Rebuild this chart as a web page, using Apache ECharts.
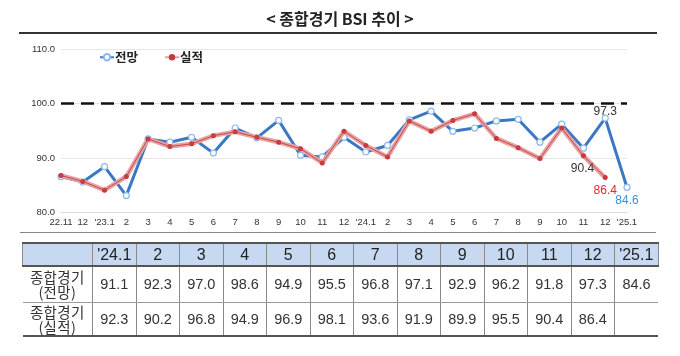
<!DOCTYPE html>
<html><head><meta charset="utf-8">
<script src="https://cdn.jsdelivr.net/npm/echarts@6/dist/echarts.min.js"></script>
<style>
html,body{margin:0;padding:0;background:#fff;width:680px;height:356px;overflow:hidden;}
#chart{position:absolute;left:0;top:0;width:680px;height:356px;}
.rule{position:absolute;}
#tbl{position:absolute;left:22px;top:242px;border-collapse:collapse;table-layout:fixed;color:#333;
 font-family:'Liberation Sans Narrow','Liberation Sans',Arial,sans-serif;}
#tbl th{background:#c6d9f0;font-weight:normal;font-size:16px;height:21px;padding:0;text-align:center;color:#222;
 border:1px solid #8a8a8a;border-top:2px solid #555;border-bottom:2px solid #555;}
#tbl td{font-size:14.5px;text-align:center;padding:0;border-left:1px solid #8a8a8a;border-right:1px solid #8a8a8a;border-bottom:1px solid #9a9a9a;}
#tbl td.lab{font-family:'Noto Sans CJK KR',sans-serif;font-size:14.5px;line-height:15px;border-left:none;letter-spacing:0.3px;color:#333;}
#tbl td:last-child{border-right:none;}
#tbl tr.last td{border-bottom:2px solid #555;}
</style></head>
<body>
<div id="chart"></div>
<div class="rule" style="left:19px;top:32px;width:638px;height:2px;background:#333;"></div>
<div class="rule" style="left:20px;top:232px;width:636px;height:1px;background:#888;"></div>
<table id="tbl"></table>
<script>
var categories = ['22.11','12',"'23.1",'2','3','4','5','6','7','8','9','10','11','12',"'24.1",'2','3','4','5','6','7','8','9','10','11','12',"'25.1"];
var outlook = [86.6,85.6,88.4,83.1,93.5,92.9,93.8,90.9,95.5,93.7,96.9,90.5,90.2,93.8,91.1,92.3,97.0,98.6,94.9,95.5,96.8,97.1,92.9,96.2,91.8,97.3,84.6];
var actual  = [86.8,85.7,84.1,86.6,93.5,92.1,92.6,94.1,94.8,93.8,92.9,91.7,89.1,94.9,92.3,90.2,96.8,94.9,96.9,98.1,93.6,91.9,89.9,95.5,90.4,86.4,null];
var yTicks = [80,90,100,110];
var rowLabels = ['종합경기<br>(전망)','종합경기<br>(실적)'];
var tableStart = 14;

// ---- table ----
var tbl = document.getElementById('tbl');
var html = '<colgroup><col style="width:70px">';
for (var i = tableStart; i < categories.length; i++) html += '<col style="width:43.5px">';
html += '</colgroup><tr><th></th>';
for (var i = tableStart; i < categories.length; i++) html += '<th>' + categories[i] + '</th>';
html += '</tr>';
[outlook, actual].forEach(function(arr, r){
  html += '<tr class="' + (r === 1 ? 'last' : '') + '" style="height:' + (r === 0 ? 36 : 34) + 'px"><td class="lab">' + rowLabels[r] + '</td>';
  for (var i = tableStart; i < categories.length; i++) html += '<td>' + (arr[i] == null ? '' : arr[i].toFixed(1)) + '</td>';
  html += '</tr>';
});
tbl.innerHTML = html;

// ---- chart ----
var n = categories.length;
var blueData = outlook.map(function(v, i){
  var d = {value: v};
  if (i === n - 2) d.label = {show: true, position: 'top', color: '#333', fontSize: 12, distance: 0, offset: [0, 3]};
  if (i === n - 1) d.label = {show: true, position: 'bottom', color: '#3a8fd8', fontSize: 12, distance: 4};
  return d;
});
var redData = actual.map(function(v, i){
  var d = {value: v};
  if (i === n - 3) d.label = {show: true, position: 'bottom', color: '#333', fontSize: 12, distance: 4, offset: [-1, 0]};
  if (i === n - 2) d.label = {show: true, position: 'bottom', color: '#e8262b', fontSize: 12, distance: 5};
  return d;
});
var numFont = "'Liberation Sans Narrow','Liberation Sans',Arial,sans-serif";
var chart = echarts.init(document.getElementById('chart'), null, {renderer: 'canvas'});
chart.setOption({
  animation: false,
  title: {text: '< 종합경기 BSI 추이 >', left: 'center', top: 6,
    textStyle: {fontFamily: 'Noto Sans CJK KR', fontWeight: 'bold', fontSize: 16, color: '#222'}},
  legend: {data: ['전망','실적'], left: 94, top: 46, itemWidth: 14, itemHeight: 8, itemGap: 26,
    textStyle: {fontFamily: 'Noto Sans CJK KR', fontWeight: 'bold', fontSize: 12.5, color: '#222', padding: [0,0,0,-4]}},
  grid: {left: 61, right: 53, top: 49, bottom: 143.5},
  xAxis: {type: 'category', data: categories, boundaryGap: false,
    axisLine: {lineStyle: {color: '#dcdcdc'}}, axisTick: {show: false},
    axisLabel: {fontSize: 9.5, color: '#333', margin: 5, interval: 0, fontFamily: numFont}},
  yAxis: {type: 'value', min: yTicks[0], max: yTicks[yTicks.length-1], interval: 10,
    axisLine: {show: false}, axisTick: {show: false},
    splitLine: {lineStyle: {color: '#e6e6e6'}},
    axisLabel: {fontSize: 9.5, color: '#333', margin: 6, fontFamily: numFont,
      formatter: function(v){ return v.toFixed(1); }}},
  series: [
    {name: '전망', type: 'line', data: blueData, z: 3,
      symbol: 'circle', symbolSize: 6, showAllSymbol: true,
      lineStyle: {color: '#3b78c4', width: 3},
      itemStyle: {color: '#ffffff', borderColor: '#8db8ea', borderWidth: 1.2},
      label: {fontFamily: numFont},
      markLine: {silent: true, symbol: 'none', label: {show: false},
        lineStyle: {color: '#111', width: 2.5, type: [13, 7]},
        data: [{yAxis: 100}]}},
    {name: '실적', type: 'line', data: redData, z: 4,
      symbol: 'circle', symbolSize: 5, showAllSymbol: true,
      lineStyle: {color: '#e7a2a3', width: 4.5},
      itemStyle: {color: '#c8373a'},
      label: {fontFamily: numFont}},
    {name: '실적선', type: 'line', data: actual, z: 5, symbol: 'none',
      lineStyle: {color: '#c9484b', width: 1}, tooltip: {show: false}}
  ]
});
</script>
</body></html>
